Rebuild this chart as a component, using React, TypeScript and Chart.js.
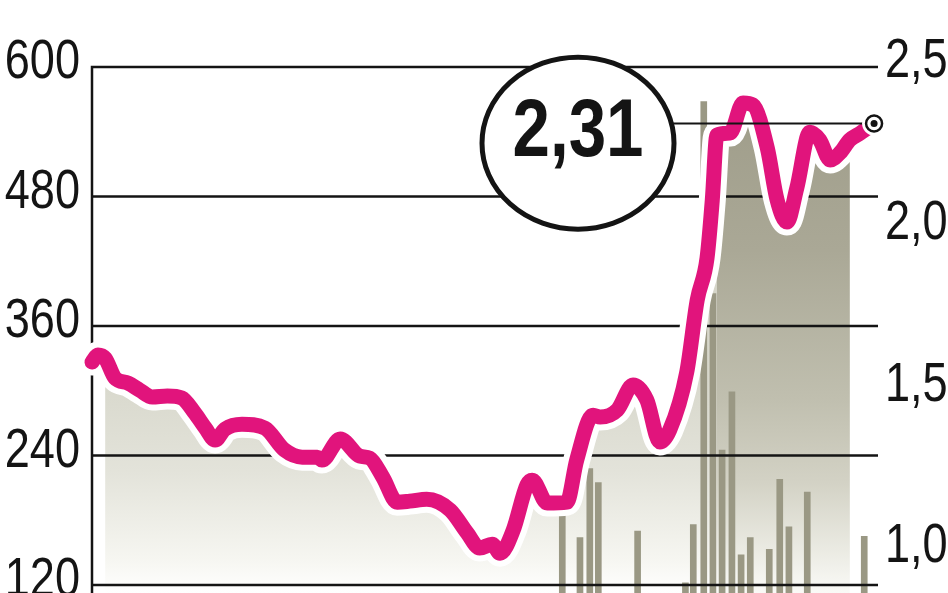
import { useEffect, useRef } from 'react';
import { Chart, registerables } from 'chart.js';

Chart.register(...registerables);

// ---- data ----
const priceDays = [0, 0.9, 2, 3.5, 5.5, 7.3, 9.2, 11.5, 13.7, 15.7, 17.3, 18.8, 20.3, 22.9, 26.4, 29.4, 32.1, 34.4, 35.1, 37.9, 40.9, 42.4, 44.4, 46.6, 48.5, 51.1, 54.7, 57.3, 59.2, 61.1, 62.3, 64.3, 66.4, 67.2, 69.5, 72.5, 74, 76.5, 77.6, 80.2, 82.6, 84.7, 86.7, 88.2, 90.8, 92.4, 93.9, 94.7, 95.4, 97.4, 99.4, 100.9, 103.1, 104.6, 106.1, 107.6, 109.6, 111.1, 112.7, 114.2, 115.7, 117.3, 119.4];
const priceValues = [1.572, 1.594, 1.584, 1.523, 1.507, 1.485, 1.464, 1.467, 1.461, 1.414, 1.368, 1.331, 1.365, 1.38, 1.368, 1.3, 1.278, 1.278, 1.269, 1.334, 1.281, 1.275, 1.216, 1.139, 1.142, 1.148, 1.114, 1.043, 0.997, 1.009, 0.981, 1.052, 1.192, 1.207, 1.136, 1.139, 1.269, 1.408, 1.402, 1.424, 1.501, 1.455, 1.325, 1.362, 1.541, 1.764, 1.894, 2.073, 2.274, 2.28, 2.373, 2.367, 2.234, 2.073, 2.005, 2.11, 2.283, 2.259, 2.197, 2.219, 2.259, 2.28, 2.31];
const volumeDays = [71.8, 74.5, 76.0, 77.3, 83.3, 90.6, 91.8, 93.4, 94.8, 96.2, 97.7, 99.1, 100.5, 103.4, 105.0, 106.4, 109.2, 117.9];
const volumeValues = [186, 164, 228, 215, 170, 122, 176, 568, 390, 245, 299, 148, 164, 153, 218, 174, 206, 165];
const leftTickValues = [120, 240, 360, 480, 600];
const leftTickLabels = ['120', '240', '360', '480', '600'];
const rightTickValues = [1.0, 1.5, 2.0, 2.5];
const rightTickLabels = ['1,0', '1,5', '2,0', '2,5'];
const lastPriceLabel = '2,31';

// ---- layout constants ----
const LEFT_MIN = 112.6;
const LEFT_MAX = 625;
const RIGHT_MIN = 0.858;
const RIGHT_MAX = 2.568;
const DAY_MIN = 0;
const DAY_MAX = 120;
const AREA_START = 2;
const AREA_END = 60;
const AREA_HIGH_START = 48;
const CIRCLE_DAY = 74.2;
const CIRCLE_PRICE = 2.249;

const FONT = "'Liberation Sans', Arial, sans-serif";
const NARROW = 0.82;
const PINK = '#e1147c';
const BAR = '#9a9884';
const INK = '#141414';

const pricePoints = priceDays.map((d, i) => ({ x: d, y: priceValues[i] }));
const volumePoints = volumeDays.map((d, i) => ({ x: d, y: volumeValues[i] }));

function makeGradient(stops: [number, string][]) {
  return (context: any) => {
    const chart = context.chart;
    const area = chart.chartArea;
    if (!area) return stops[0][1];
    const g = chart.ctx.createLinearGradient(0, area.top, 0, area.bottom);
    stops.forEach(([p, c]) => g.addColorStop(p, c));
    return g;
  };
}

function narrowText(ctx: CanvasRenderingContext2D, text: string, x: number, y: number, align: CanvasTextAlign) {
  ctx.save();
  ctx.translate(x, y);
  ctx.scale(NARROW, 1);
  ctx.textAlign = align;
  ctx.fillText(text, 0, 0);
  ctx.restore();
}

const gridPlugin = {
  id: 'paperGrid',
  beforeDatasetDraw(chart: any, args: any) {
    if (args.index !== 3) return;
    const { ctx, chartArea, scales } = chart;
    const yl = scales.yLeft;
    ctx.save();
    ctx.strokeStyle = INK;
    ctx.lineWidth = 2.5;
    ctx.beginPath();
    leftTickValues.forEach((v) => {
      const y = yl.getPixelForValue(v);
      ctx.moveTo(chartArea.left, y);
      ctx.lineTo(chartArea.right, y);
    });
    ctx.moveTo(chartArea.left, yl.getPixelForValue(leftTickValues[leftTickValues.length - 1]) - 1.25);
    ctx.lineTo(chartArea.left, chartArea.bottom + 5);
    ctx.stroke();
    ctx.restore();
  },
};

const annotationPlugin = {
  id: 'paperAnnotations',
  afterDatasetsDraw(chart: any) {
    const { ctx, scales, chartArea } = chart;
    const xs = scales.x;
    const yr = scales.yRight;
    const yl = scales.yLeft;
    const last = priceDays.length - 1;
    const lx = xs.getPixelForValue(priceDays[last]);
    const ly = yr.getPixelForValue(priceValues[last]);
    const cx = xs.getPixelForValue(CIRCLE_DAY);
    const cy = yr.getPixelForValue(CIRCLE_PRICE);
    ctx.save();
    // reference line to last value
    ctx.strokeStyle = INK;
    ctx.lineWidth = 2;
    ctx.beginPath();
    ctx.moveTo(cx, ly);
    ctx.lineTo(lx, ly);
    ctx.stroke();
    // circle
    ctx.beginPath();
    ctx.ellipse(cx, cy, 96, 86, 0, 0, Math.PI * 2);
    ctx.fillStyle = '#ffffff';
    ctx.fill();
    ctx.lineWidth = 5;
    ctx.strokeStyle = INK;
    ctx.stroke();
    ctx.fillStyle = INK;
    ctx.font = `bold 82px ${FONT}`;
    ctx.textBaseline = 'alphabetic';
    narrowText(ctx, lastPriceLabel, cx, cy + 13, 'center');
    // end marker
    ctx.beginPath();
    ctx.arc(lx, ly, 12, 0, Math.PI * 2);
    ctx.fillStyle = '#ffffff';
    ctx.fill();
    ctx.beginPath();
    ctx.arc(lx, ly, 8, 0, Math.PI * 2);
    ctx.lineWidth = 2.5;
    ctx.strokeStyle = INK;
    ctx.stroke();
    ctx.beginPath();
    ctx.arc(lx, ly, 3.5, 0, Math.PI * 2);
    ctx.fillStyle = INK;
    ctx.fill();
    // axis labels (condensed)
    ctx.fillStyle = INK;
    ctx.font = `55px ${FONT}`;
    ctx.textBaseline = 'middle';
    leftTickValues.forEach((v, i) => {
      narrowText(ctx, leftTickLabels[i], chartArea.left - 12, yl.getPixelForValue(v) - 4, 'right');
    });
    rightTickValues.forEach((v, i) => {
      narrowText(ctx, rightTickLabels[i], chartArea.right + 7, yr.getPixelForValue(v), 'left');
    });
    ctx.restore();
  },
};

export default function App() {
  const canvasRef = useRef<HTMLCanvasElement | null>(null);

  useEffect(() => {
    if (!canvasRef.current) return;
    const lineCommon = {
      type: 'line' as const,
      xAxisID: 'x',
      yAxisID: 'yRight',
      pointRadius: 0,
      cubicInterpolationMode: 'monotone' as const,
    };
    const chart = new Chart(canvasRef.current, {
      type: 'line',
      data: {
        datasets: [
          {
            ...lineCommon,
            data: pricePoints.slice(AREA_START, AREA_END + 1),
            fill: 'start',
            borderWidth: 0,
            backgroundColor: makeGradient([
              [0, '#cfcec1'],
              [0.6, '#d7d7cb'],
              [0.78, '#e3e3da'],
              [0.94, '#f6f6f1'],
              [1, '#ffffff'],
            ]),
            order: 4,
          } as any,
          {
            ...lineCommon,
            data: pricePoints.slice(AREA_HIGH_START, AREA_END + 1),
            fill: 'start',
            borderWidth: 0,
            backgroundColor: makeGradient([
              [0, '#9d9b88'],
              [0.11, '#9f9d8a'],
              [0.38, '#aaa896'],
              [0.65, '#c0bfaf'],
              [0.8, '#d3d2c5'],
              [0.94, '#eeeee7'],
              [1, '#fafaf7'],
            ]),
            order: 3,
          } as any,
          {
            type: 'bar',
            xAxisID: 'x',
            yAxisID: 'yLeft',
            data: volumePoints,
            backgroundColor: BAR,
            barThickness: 6,
            order: 2,
          } as any,
          {
            ...lineCommon,
            data: pricePoints,
            fill: false,
            borderColor: '#ffffff',
            borderWidth: 27,
            borderCapStyle: 'round',
            borderJoinStyle: 'round',
            clip: 20,
            order: 1,
          } as any,
          {
            ...lineCommon,
            data: pricePoints,
            fill: false,
            borderColor: PINK,
            borderWidth: 15,
            borderCapStyle: 'round',
            borderJoinStyle: 'round',
            clip: 20,
            order: 0,
          } as any,
        ],
      },
      options: {
        animation: false,
        responsive: false,
        events: [],
        layout: { padding: { top: 40, left: 0, right: 0, bottom: 0 } },
        plugins: { legend: { display: false }, tooltip: { enabled: false } },
        scales: {
          x: { type: 'linear', min: DAY_MIN, max: DAY_MAX, display: false, offset: false },
          yLeft: {
            type: 'linear',
            position: 'left',
            min: LEFT_MIN,
            max: LEFT_MAX,
            grid: { display: false, drawTicks: false },
            border: { display: false },
            ticks: { display: false },
            afterBuildTicks: (s: any) => {
              s.ticks = leftTickValues.map((v) => ({ value: v }));
            },
            afterFit: (s: any) => {
              s.width = 92;
              s.paddingTop = 0;
              s.paddingBottom = 0;
            },
          },
          yRight: {
            type: 'linear',
            position: 'right',
            min: RIGHT_MIN,
            max: RIGHT_MAX,
            grid: { display: false, drawTicks: false },
            border: { display: false },
            ticks: { display: false },
            afterBuildTicks: (s: any) => {
              s.ticks = rightTickValues.map((v) => ({ value: v }));
            },
            afterFit: (s: any) => {
              s.width = 70;
              s.paddingTop = 0;
              s.paddingBottom = 0;
            },
          },
        },
      } as any,
      plugins: [gridPlugin, annotationPlugin],
    });
    return () => chart.destroy();
  }, []);

  return (
    <div style={{ position: 'fixed', left: 0, top: 0, width: 948, height: 593, background: '#fff' }}>
      <canvas ref={canvasRef} width={948} height={593} style={{ display: 'block' }} />
    </div>
  );
}
